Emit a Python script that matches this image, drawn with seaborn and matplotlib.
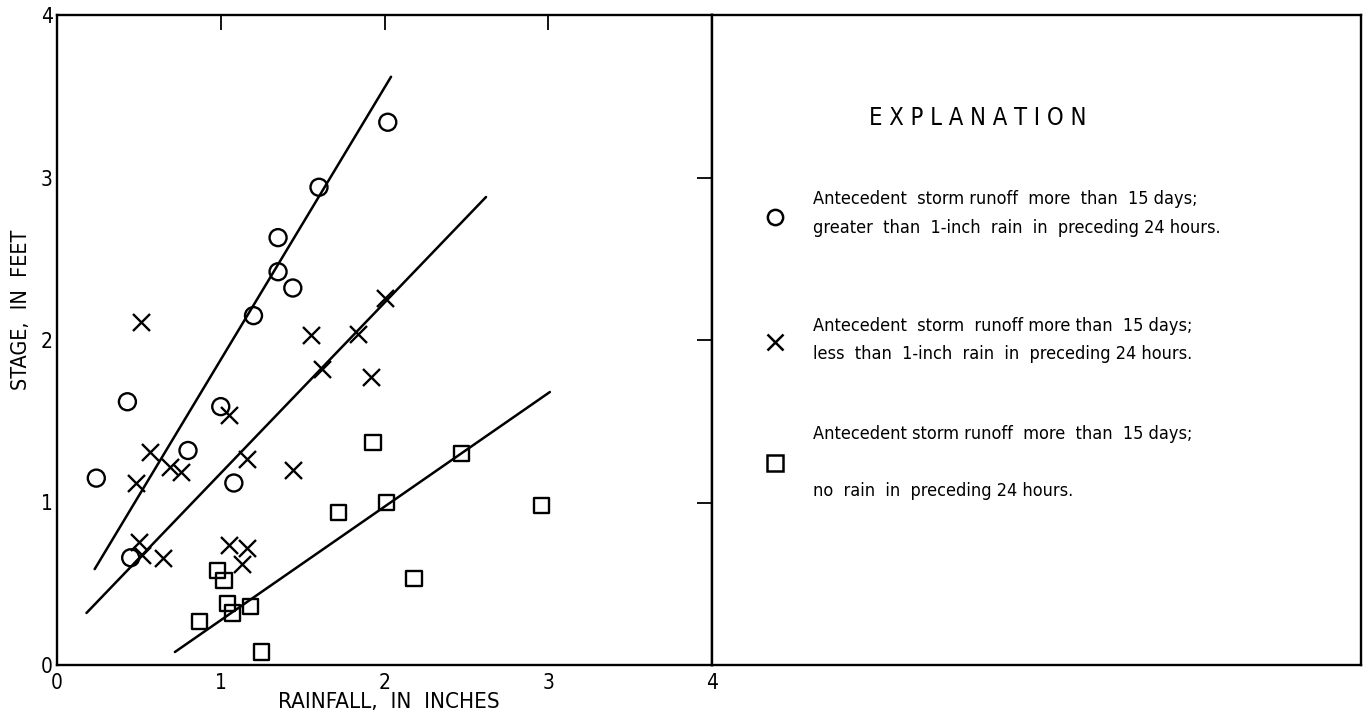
import pandas as pd
import matplotlib
matplotlib.use("Agg")
import matplotlib.pyplot as plt
import seaborn as sns

# rainfall (in) vs stage (ft)
circle_rain = [2.02, 1.60, 1.35, 1.35, 1.44, 1.20, 0.43, 1.00, 0.80, 0.24, 1.08, 0.45]
circle_stage = [3.34, 2.94, 2.63, 2.42, 2.32, 2.15, 1.62, 1.59, 1.32, 1.15, 1.12, 0.66]

cross_rain = [0.51, 1.55, 1.84, 2.00, 1.62, 1.92, 1.05, 0.57, 0.69, 0.76, 1.16, 1.44,
              0.48, 0.50, 0.52, 0.65, 1.05, 1.16, 1.13]
cross_stage = [2.11, 2.03, 2.04, 2.26, 1.82, 1.77, 1.54, 1.31, 1.22, 1.19, 1.27, 1.20,
               1.12, 0.76, 0.68, 0.66, 0.74, 0.72, 0.62]

square_rain = [1.93, 1.72, 2.01, 2.47, 2.96, 0.98, 1.02, 2.18, 1.04, 1.18, 1.07, 0.87, 1.25]
square_stage = [1.37, 0.94, 1.00, 1.30, 0.98, 0.58, 0.52, 0.53, 0.38, 0.36, 0.32, 0.27, 0.08]

# hand-fitted curves (end points)
circle_line_x = [0.23, 2.04]
circle_line_y = [0.59, 3.62]
cross_line_x = [0.18, 2.62]
cross_line_y = [0.32, 2.88]
square_line_x = [0.72, 3.01]
square_line_y = [0.08, 1.68]

ticks = [0, 1, 2, 3, 4]

legend_texts = [
    "Antecedent  storm runoff  more  than  15 days;\ngreater  than  1-inch  rain  in  preceding 24 hours.",
    "Antecedent  storm  runoff more than  15 days;\nless  than  1-inch  rain  in  preceding 24 hours.",
    "Antecedent storm runoff  more  than  15 days;\n\nno  rain  in  preceding 24 hours.",
]

sns.set_theme(style="white")
plt.rcParams['font.family'] = ['DejaVu Sans']
plt.rcParams['font.stretch'] = 'condensed'
plt.rcParams['text.color'] = 'black'
plt.rcParams['axes.labelcolor'] = 'black'

fig = plt.figure(figsize=(13.71, 7.19), dpi=100)
ax = fig.add_axes([57 / 1371, 54 / 719, 655 / 1371, 650 / 719])
ax2 = fig.add_axes([712 / 1371, 54 / 719, 649 / 1371, 650 / 719])

lw = 1.8
for xs, ys in [(circle_line_x, circle_line_y), (cross_line_x, cross_line_y),
               (square_line_x, square_line_y)]:
    sns.lineplot(x=xs, y=ys, ax=ax, color="black", linewidth=lw)

sns.scatterplot(x=circle_rain, y=circle_stage, ax=ax, marker="o", s=150,
                facecolor="none", edgecolor="black", linewidth=1.7, zorder=3)
sns.scatterplot(x=cross_rain, y=cross_stage, ax=ax, marker="x", s=150,
                color="black", linewidth=1.7, zorder=3)
sns.scatterplot(x=square_rain, y=square_stage, ax=ax, marker="s", s=120,
                facecolor="none", edgecolor="black", linewidth=1.7, zorder=3)

ax.set_xlim(0, 4)
ax.set_ylim(0, 4)
ax.set_xticks(ticks)
ax.set_yticks(ticks)
ax.tick_params(direction="in", length=11, width=1.3, top=True, right=True,
               labelsize=15, colors="black")
ax.tick_params(axis="x", pad=6)
ax.tick_params(axis="y", pad=3)
for sp in ax.spines.values():
    sp.set_color("black")
    sp.set_linewidth(1.7)
ax.set_xlabel("RAINFALL,  IN  INCHES", fontsize=16)
ax.set_ylabel("STAGE,  IN  FEET", fontsize=15.5)
ax.xaxis.set_label_coords(0.506, -0.041)
ax.yaxis.set_label_coords(-0.04, 0.546)

# explanation panel
ax2.set_xlim(0, 1)
ax2.set_ylim(0, 1)
ax2.set_xticks([])
ax2.set_yticks([])
for sp in ax2.spines.values():
    sp.set_color("black")
    sp.set_linewidth(1.7)
ax2.text(0.41, 0.842, "E X P L A N A T I O N", fontsize=17, ha="center", va="center")

marker_y = [0.689, 0.497, 0.311]
text_y = [0.695, 0.50, 0.312]
ax2.plot(0.097, marker_y[0], marker="o", ms=11, mfc="none", mec="black", mew=1.8)
ax2.plot(0.097, marker_y[1], marker="x", ms=12, color="black", mew=1.8)
ax2.plot(0.097, marker_y[2], marker="s", ms=11, mfc="none", mec="black", mew=1.8)
for ty, txt in zip(text_y, legend_texts):
    ax2.text(0.156, ty, txt, fontsize=13, ha="left", va="center", linespacing=1.75)

fig.savefig("out.png", dpi=100)
